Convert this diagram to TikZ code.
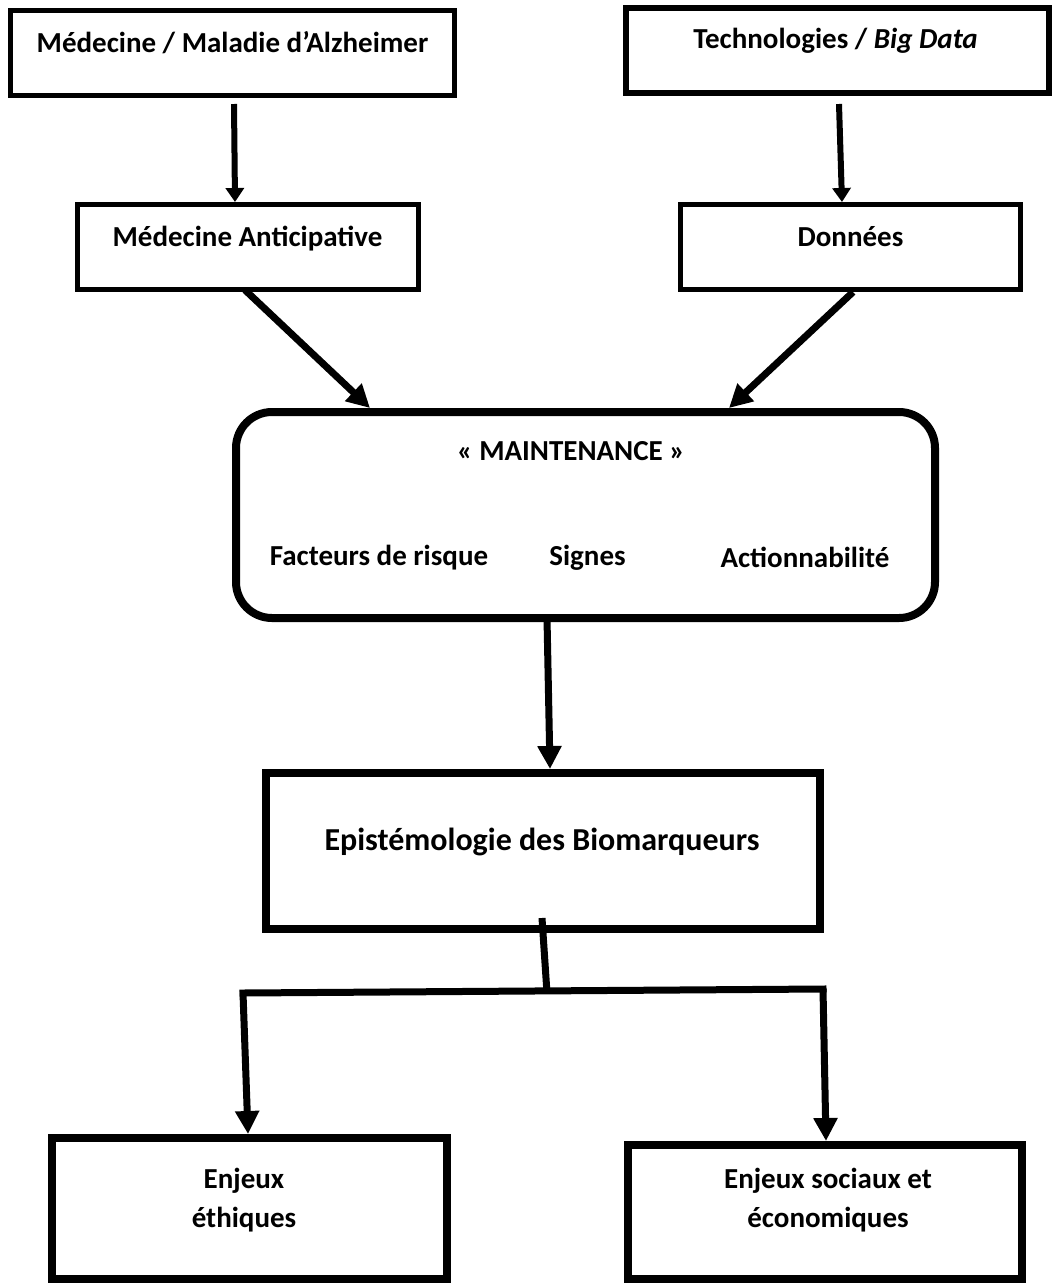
\documentclass[tikz,border=0pt]{standalone}
\usepackage{fontspec}
\setmainfont{Carlito}
\usetikzlibrary{arrows.meta}
\begin{document}
\begin{tikzpicture}[x=1pt,y=-1pt,
  box/.style={draw=black,line width=5pt,inner sep=0pt},
  txt/.style={font=\fontsize{29pt}{39pt}\selectfont\bfseries,inner sep=0pt,anchor=base,align=center},
  bigtxt/.style={font=\fontsize{32pt}{39pt}\selectfont\bfseries,inner sep=0pt,anchor=base},
  arrbig/.style={draw=black,line width=7pt,-{Triangle[length=23pt,width=23pt]}},
  arrsmall/.style={draw=black,line width=6pt,-{Triangle[length=14pt,width=18pt]}},
  link/.style={draw=black,line width=7pt}]
\path[use as bounding box,fill=white] (0,0) rectangle (1060,1283);

% boxes
\node[box,minimum width=444pt,minimum height=85pt] (b1) at (232.5,53) {};
\node[box,line width=6pt,minimum width=423pt,minimum height=85pt] (b3) at (837.5,50.5) {};
\node[box,minimum width=341pt,minimum height=85pt] (b2) at (248,247) {};
\node[box,minimum width=340pt,minimum height=85pt] (b4) at (850.5,247) {};
\node[box,line width=8pt,rounded corners=36pt,minimum width=699pt,minimum height=206pt] (R) at (585.5,515) {};
\node[box,line width=8pt,minimum width=554pt,minimum height=156pt] (E) at (543,851) {};
\node[box,line width=8pt,minimum width=395pt,minimum height=141pt] (L) at (249.5,1208.5) {};
\node[box,line width=8pt,minimum width=394pt,minimum height=134pt] (B) at (825,1212) {};

% texts
\node[txt] (t1) at (232.5,52) {Médecine / Maladie d’Alzheimer};
\node[txt] (t3) at (835.5,48) {Technologies / \textit{Big Data}};
\node[txt] (t2) at (247.5,246) {Médecine Anticipative};
\node[txt] (t4) at (850.5,246) {Données};
\node[txt] (tm) at (571,460) {« MAINTENANCE »};
\node[txt] (tf) at (379,565) {Facteurs de risque};
\node[txt] (ts) at (587.5,565) {Signes};
\node[txt] (ta) at (805,567) {Actionnabilité};
\node[bigtxt] (te) at (542,850) {Epistémologie des Biomarqueurs};
\node[txt] (tl) at (244,1227) {Enjeux\\éthiques};
\node[txt] (tb) at (828,1227) {Enjeux sociaux et\\économiques};

% connectors
\draw[arrsmall] ([xshift=1.5pt,yshift=-6pt]b1.south) -- ([xshift=-13pt]b2.north);
\draw[arrsmall] ([xshift=1.5pt,yshift=-8pt]b3.south) -- ([xshift=-8.5pt]b4.north);
\draw[arrbig] ([xshift=-3pt,yshift=2pt]b2.south) -- ([xshift=-215.5pt]R.north);
\draw[arrbig] ([xshift=2.5pt]b4.south) -- ([xshift=143.5pt]R.north);
\draw[arrbig] ([xshift=-38.5pt,yshift=4pt]R.south) -- ([xshift=7pt]E.north);

\coordinate (j) at (547,993);
\coordinate (hl) at (243,993);
\coordinate (hr) at (823,989);
\draw[link] ([xshift=-1pt,yshift=15pt]E.south) -- (j);
\draw[link,line cap=rect] (hl) -- (hr);
\draw[arrbig] (hl) -- ([xshift=-1.5pt]L.north);
\draw[arrbig] (hr) -- ([xshift=1pt]B.north);
\end{tikzpicture}
\end{document}
